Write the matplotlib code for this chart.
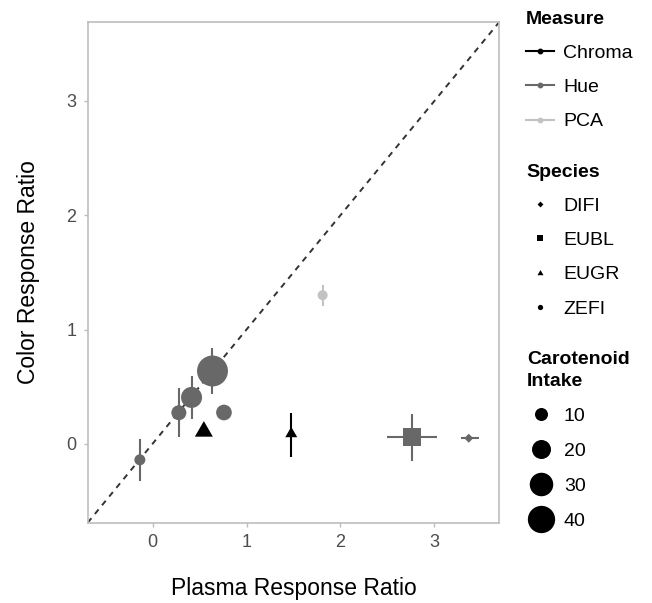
"""Plasma vs color response ratio (pointrange scatter with manual legends)."""
import numpy as np
import matplotlib
matplotlib.use("Agg")
import matplotlib.pyplot as plt
from matplotlib.lines import Line2D

plt.rcParams["font.family"] = ["Liberation Sans", "DejaVu Sans"]

# data
measure = ["Hue", "Hue", "Hue", "Hue", "Hue", "Chroma", "Chroma", "PCA", "Hue", "Hue"]
species = ["ZEFI", "ZEFI", "ZEFI", "ZEFI", "ZEFI", "EUGR", "EUGR", "ZEFI", "EUBL", "DIFI"]
plasma = [-0.135, 0.28, 0.415, 0.638, 0.76, 0.546, 1.476, 1.81, 2.763, 3.365]
color = [-0.14, 0.272, 0.406, 0.637, 0.274, 0.108, 0.088, 1.30, 0.058, 0.049]
color_lo = [-0.327, 0.064, 0.219, 0.432, np.nan, np.nan, -0.111, 1.205, -0.146, np.nan]
color_hi = [0.044, 0.488, 0.59, 0.839, np.nan, np.nan, 0.272, 1.389, 0.257, np.nan]
plasma_lo = [np.nan] * 8 + [2.497, 3.284]
plasma_hi = [np.nan] * 8 + [3.029, 3.471]
intake = [7.5, 12.9, 24.2, 51, 14, 10.5, 5.3, 6.4, 18, 5.4]

measure_levels = ["Chroma", "Hue", "PCA"]
species_levels = ["DIFI", "EUBL", "EUGR", "ZEFI"]
intake_breaks = [10, 20, 30, 40]

COLORS = {"Chroma": "#000000", "Hue": "#686868", "PCA": "#c2c2c2"}
TRI = [(0, 1.155), (-1, -0.577), (1, -0.577)]
DIAMOND = [(0, 1), (1, 0), (0, -1), (-1, 0)]
# marker, width relative to circle of same size, extra factor for path
SHAPES = {"ZEFI": ("o", 1.0, 1.0), "EUBL": ("s", 1.0, 1.0),
          "EUGR": (TRI, 1.347, 1 / 0.866), "DIFI": (DIAMOND, 1.0, 1.0)}


def diam_pt(v):
    # circle diameter in points (1 px = 0.72 pt at 100 dpi)
    return np.sqrt(19.2 * v - 23) * 0.72


fig = plt.figure(figsize=(6.52, 6.03), dpi=100)
ax = fig.add_axes([87.7 / 652, 1 - 522.7 / 603, (499.3 - 87.7) / 652, (522.7 - 22) / 603])
lims = (-0.69, 3.69)
ax.set_xlim(lims)
ax.set_ylim(lims)

ax.axline((0, 0), slope=1, color="#333333", lw=1.4, ls=(0, (3, 2.8)), zorder=1)

for i in range(len(plasma)):
    c = COLORS[measure[i]]
    if not np.isnan(color_lo[i]):
        ax.plot([plasma[i], plasma[i]], [color_lo[i], color_hi[i]], color=c, lw=1.5,
                solid_capstyle="butt", zorder=2)
    if not np.isnan(plasma_lo[i]):
        ax.plot([plasma_lo[i], plasma_hi[i]], [color[i], color[i]], color=c, lw=1.5,
                solid_capstyle="butt", zorder=2)
    mk, wf, pf = SHAPES[species[i]]
    size = diam_pt(intake[i]) * wf * pf
    ax.scatter([plasma[i]], [color[i]], s=size ** 2, marker=mk, color=c,
               edgecolors="none", zorder=3)

ax.set_xticks([0, 1, 2, 3])
ax.set_yticks([0, 1, 2, 3])
for s in ax.spines.values():
    s.set_color("#bdbdbd")
    s.set_linewidth(1.2)
ax.tick_params(length=3, width=1, color="#bdbdbd", labelsize=13,
               labelcolor="#4d4d4d", pad=5)
ax.set_xlabel("Plasma Response Ratio", fontsize=16.5, labelpad=19)
ax.set_ylabel("Color Response Ratio", fontsize=16.5, labelpad=19)

# legends
leg_kw = dict(loc="upper left", frameon=False, borderpad=0, borderaxespad=0,
              fontsize=14, handlelength=1.45, handletextpad=0.45, labelspacing=0.85,
              alignment="left", title_fontproperties={"weight": "bold", "size": 14})

h_measure = [Line2D([], [], color=COLORS[m], lw=1.5, marker="o", markersize=3.2)
             for m in measure_levels]
fig.legend(h_measure, measure_levels, title="Measure",
           bbox_to_anchor=(526 / 652, 1 - 11 / 603), **leg_kw)

sp_mk = {"DIFI": (DIAMOND, 4.2), "EUBL": ("s", 4.0), "EUGR": (TRI, 5.0), "ZEFI": ("o", 3.8)}
h_species = [Line2D([], [], ls="none", color="black", marker=sp_mk[s][0], markersize=sp_mk[s][1],
                    markeredgewidth=0) for s in species_levels]
fig.legend(h_species, species_levels, title="Species",
           bbox_to_anchor=(526 / 652, 1 - 164 / 603), **leg_kw)

h_size = [Line2D([], [], ls="none", color="black", marker="o", markersize=diam_pt(v),
                 markeredgewidth=0) for v in intake_breaks]
size_kw = dict(leg_kw, labelspacing=0.9)
leg = fig.legend(h_size, [str(v) for v in intake_breaks], title="Carotenoid\nIntake",
                 bbox_to_anchor=(527 / 652, 1 - 351 / 603), **size_kw)
leg.get_title().set_linespacing(1.35)

fig.savefig("out.png", dpi=100, facecolor="white")
